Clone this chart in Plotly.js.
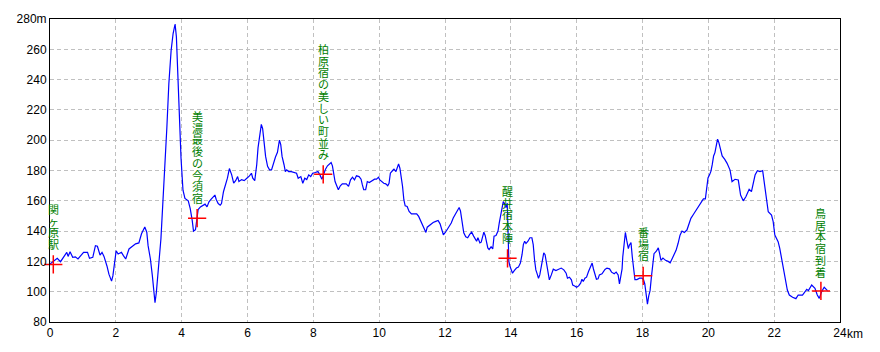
<!DOCTYPE html>
<html>
<head>
<meta charset="utf-8">
<script src="https://cdn.plot.ly/plotly-3.0.1.min.js"></script>
<style>html,body{margin:0;padding:0;background:#fff;}</style>
</head>
<body>
<div id="chart" style="width:880px;height:352px;"></div>
<script>
// Distance along route (km)
const distKm = [
0,0.12,0.22,0.32,0.43,0.51,0.55,0.61,0.69,0.77,
0.85,0.93,1.02,1.14,1.2,1.3,1.38,1.44,1.52,1.58,
1.64,1.73,1.79,1.87,1.91,1.95,2.01,2.07,2.17,2.23,
2.3,2.4,2.48,2.6,2.7,2.78,2.88,2.94,2.98,3.05,
3.11,3.17,3.19,3.23,3.29,3.37,3.43,3.49,3.55,3.61,
3.68,3.74,3.78,3.8,3.84,3.88,3.92,3.98,4.04,4.1,
4.2,4.26,4.32,4.36,4.42,4.46,4.5,4.57,4.65,4.71,
4.77,4.83,4.89,4.97,5.01,5.05,5.11,5.17,5.21,5.27,
5.33,5.39,5.45,5.52,5.58,5.64,5.7,5.74,5.82,5.9,
5.98,6.06,6.12,6.16,6.22,6.28,6.32,6.38,6.42,6.46,
6.51,6.55,6.61,6.67,6.73,6.79,6.85,6.91,6.97,7.01,
7.05,7.11,7.15,7.19,7.25,7.33,7.41,7.49,7.54,7.62,
7.68,7.74,7.8,7.86,7.92,7.98,8.06,8.14,8.2,8.26,
8.31,8.37,8.43,8.5,8.54,8.58,8.62,8.66,8.72,8.76,
8.82,8.88,9.0,9.07,9.13,9.19,9.25,9.31,9.39,9.45,
9.49,9.53,9.59,9.64,9.7,9.78,9.86,9.92,9.98,10.02,
10.08,10.14,10.2,10.26,10.3,10.34,10.41,10.45,10.51,10.55,
10.59,10.63,10.67,10.71,10.75,10.79,10.85,10.91,10.98,11.08,
11.14,11.2,11.26,11.32,11.38,11.42,11.46,11.54,11.64,11.72,
11.79,11.85,11.91,11.95,12.01,12.07,12.13,12.19,12.25,12.31,
12.38,12.43,12.47,12.51,12.57,12.63,12.69,12.75,12.81,12.87,
12.92,12.96,13.0,13.06,13.1,13.14,13.18,13.22,13.26,13.3,
13.34,13.4,13.45,13.49,13.55,13.61,13.65,13.69,13.73,13.77,
13.81,13.85,13.89,13.92,13.94,13.97,14.01,14.05,14.11,14.17,
14.23,14.29,14.34,14.38,14.42,14.46,14.52,14.58,14.64,14.68,
14.72,14.76,14.8,14.84,14.88,14.92,14.96,15.0,15.04,15.09,
15.13,15.17,15.23,15.29,15.37,15.45,15.53,15.61,15.68,15.72,
15.78,15.84,15.88,15.94,16.0,16.06,16.12,16.16,16.2,16.25,
16.3,16.36,16.43,16.47,16.51,16.55,16.6,16.65,16.69,16.77,
16.86,16.92,17.0,17.06,17.14,17.2,17.26,17.3,17.34,17.38,
17.4,17.44,17.48,17.52,17.57,17.6,17.65,17.69,17.73,17.77,
17.83,17.91,17.99,18.03,18.07,18.11,18.15,18.19,18.23,18.27,
18.31,18.35,18.42,18.48,18.52,18.56,18.62,18.7,18.78,18.84,
18.9,18.96,19.02,19.08,19.14,19.2,19.27,19.35,19.41,19.47,
19.55,19.61,19.67,19.73,19.79,19.85,19.91,19.95,19.99,20.04,
20.08,20.12,20.16,20.2,20.24,20.28,20.32,20.36,20.42,20.5,
20.57,20.66,20.72,20.81,20.91,20.98,21.06,21.14,21.24,21.31,
21.42,21.49,21.57,21.65,21.69,21.75,21.82,21.92,21.97,22.02,
22.12,22.17,22.25,22.33,22.4,22.46,22.56,22.66,22.73,22.86,
22.99,23.04,23.14,23.24,23.31,23.37,23.44,23.52,23.58,23.62
];
// Elevation (m)
const elevM = [
118.2,120.4,122,119.8,123.8,126,123.3,126.4,122.7,123,
121.6,123.8,126,126,122,122.7,130.4,130,124.2,126,
123.3,117,111.6,107,110.4,117,127,124.9,126,123.8,
121.6,128.2,129.8,131.6,132.2,138.2,142.7,139.3,130.4,121.6,
110.4,97.6,92.7,99.3,114.9,134.9,159.3,181.6,208.2,237.1,
259.3,270.4,274.9,276.7,268.2,246,219.3,188.2,167,161.6,
160,154.9,147.1,140,140.9,149.3,154.2,156,157.1,157.8,
156,159.3,160.9,163.1,163.8,160.9,158.2,157.1,158.2,166,
170.4,174.9,181.3,177.1,171.6,173.3,176,172.7,174,173.3,
174.9,176.4,178.2,174.9,173.3,183.8,194.9,206,210.4,207.6,
198.2,189.3,182.7,180.4,180.4,184.9,188.9,192,200,197.1,
189.3,183.8,179.3,180.4,179.3,179.3,178.7,178.2,174.9,176,
171.6,174.9,174,177.1,176,178.2,178.7,179.3,177.1,174.3,
177.1,180.9,183.1,184.8,185.3,183.1,178.2,172.7,169.5,167.3,
169.9,171.2,171.2,169.5,173.8,175.6,173.8,176.5,176,174.3,
170.5,167.3,167.3,172.7,172.1,173.4,174.3,174.3,175.6,173.8,
172.7,171.6,171.2,169.9,171.6,178.2,180,180.9,179.3,182.2,
184.4,181.5,176,169.5,160.7,156.7,156.3,153,151.4,151.4,
151.4,149.7,147,144.2,140.9,139.1,142.6,144.2,145.7,146.4,
147,144.8,140.9,137.6,139.1,140.9,143.5,145.3,148.6,150.8,
154.1,155.6,153.3,146.7,138.9,136.2,135.6,137.8,139.3,136.7,
134.9,133.3,135.6,132.2,132.7,136.7,139.3,137.1,132.2,128.9,
127.8,129.6,128.2,136.7,137.1,140,145.6,151.1,156.7,159.5,
158,155.5,158.5,140,120,117,114.4,112.2,114,115.6,
116.2,118.9,124.4,131.1,133.3,131.8,133.3,135.6,135.6,131.1,
121.1,114.4,111.8,108.9,111.1,116.7,122.2,125.6,124.4,116.7,
111.1,107.8,111.1,114.9,114,114.9,115.6,114.4,112.2,108.9,
109.6,107.8,104.4,103.8,102.9,103.8,105.6,108.2,106.7,108.9,
109.6,113.3,117.1,118.9,115,111,108.2,108.5,111.1,111.8,
114.7,115.6,115.1,112.9,111.8,112.9,111.1,105.1,111.8,115.1,
122.9,130.7,139.1,134,128.4,130.7,132.4,122.9,112.9,108,
108,108.9,108.9,108,105.1,98.4,91.8,97.3,100.7,109.6,
119.6,125.1,126.7,128.9,125.1,120.7,122.2,120.7,120,119.1,
121.8,124.4,127.3,131.8,137.3,140,139.1,140.7,145.1,148.4,
151.1,153.3,155.1,157.3,159.6,161.3,161.3,167.3,175.1,177.3,
179.6,184,189.6,191.8,196.2,200.7,198.4,194,189.6,187.3,
184.7,180.3,172.6,174.2,173.7,163.8,160,162.7,167.6,166,
177,179.9,179.2,179.9,173.7,162.7,152.8,150.6,146.2,137.4,
133,128.6,118.7,111,101.1,97.8,96.3,95.4,97.8,97.8,
101.6,100.7,104.4,102.2,97.8,95.6,100,102.9,101.1,100.7
];

// Landmarks
const placeNames = ["関ヶ原駅","美濃最後の今須宿","柏原宿の美しい町並み","醒井宿本陣","番場宿","鳥居本宿到着"];
const placeKm = [0.1, 4.47, 8.3, 13.9, 18.02, 23.42];
const placeM = [118, 148.5, 177.5, 122, 110.5, 100.5];

// Axis ticks
const xTickVals = [0,2,4,6,8,10,12,14,16,18,20,22,24];
const xTickText = ["0","2","4","6","8","10","12","14","16","18","20","22","24"];
const yTickVals = [80,100,120,140,160,180,200,220,240,260,280];
const yTickText = ["80","100","120","140","160","180","200","220","240","260","280m"];

const tickFont = {family:"Liberation Sans, Arial, sans-serif", size:12, color:"#000"};
const LABEL_FS = 11;     // label font size (px)
const LABEL_SP = 11.7;   // vertical pitch between stacked characters (px)

const traces = [
  {x: distKm, y: elevM, type:"scatter", mode:"lines",
   line:{color:"#0000ff", width:1.2, shape:"linear"}, hoverinfo:"skip"},
  {x: placeKm, y: placeM, type:"scatter", mode:"markers", cliponaxis:false,
   marker:{symbol:"cross-thin-open", size:13, color:"#ff0000", line:{color:"#ff0000", width:1.5}},
   hoverinfo:"skip"}
];

// Vertical labels: one annotation per place, one character per line, top-anchored
const annotations = placeNames.map((name, i) => {
  const n = Array.from(name).length;
  return {
    x: placeKm[i], y: placeM[i], xref:"x", yref:"y",
    text: Array.from(name).join("<br>"), showarrow:false,
    xanchor:"center", yanchor:"top", align:"center",
    yshift: 14.8 + n*LABEL_SP, borderpad:0,
    font:{family:"Liberation Sans, Noto Sans CJK JP, sans-serif", size:LABEL_FS, color:"#008000"}
  };
});
annotations.push({
  x: 24, y: 0, xref:"x", yref:"paper", text:"km", showarrow:false,
  xanchor:"left", yanchor:"top", xshift:5, yshift:-3, font: tickFont
});

const layout = {
  width:880, height:352,
  margin:{l:50, r:40, t:19, b:30, pad:0},
  paper_bgcolor:"#ffffff", plot_bgcolor:"#ffffff",
  showlegend:false,
  xaxis:{range:[0,24], tickmode:"array", tickvals:xTickVals, ticktext:xTickText,
    showgrid:true, gridcolor:"#c0c0c0", griddash:"4px,3px", gridwidth:1,
    showline:true, linecolor:"#000", linewidth:1, mirror:true, zeroline:false,
    ticks:"", tickfont:tickFont, fixedrange:true},
  yaxis:{range:[80,280], tickmode:"array", tickvals:yTickVals, ticktext:yTickText,
    showgrid:true, gridcolor:"#c0c0c0", griddash:"4px,3px", gridwidth:1,
    showline:true, linecolor:"#000", linewidth:1, mirror:true, zeroline:false,
    ticks:"", tickfont:tickFont, fixedrange:true},
  annotations: annotations
};

Plotly.newPlot("chart", traces, layout, {displayModeBar:false, staticPlot:true}).then(gd => {
  // set the line pitch of the stacked vertical labels
  gd.querySelectorAll("text.annotation-text").forEach(t => {
    t.querySelectorAll("tspan.line").forEach(l => {
      const dy = l.getAttribute("dy") || "0";
      const em = parseFloat(dy);
      if (dy.indexOf("em") >= 0 && !isNaN(em)) {
        const k = Math.round(em / 1.3);
        l.setAttribute("dy", (k * LABEL_SP) + "px");
      }
    });
  });
});
</script>
</body>
</html>
